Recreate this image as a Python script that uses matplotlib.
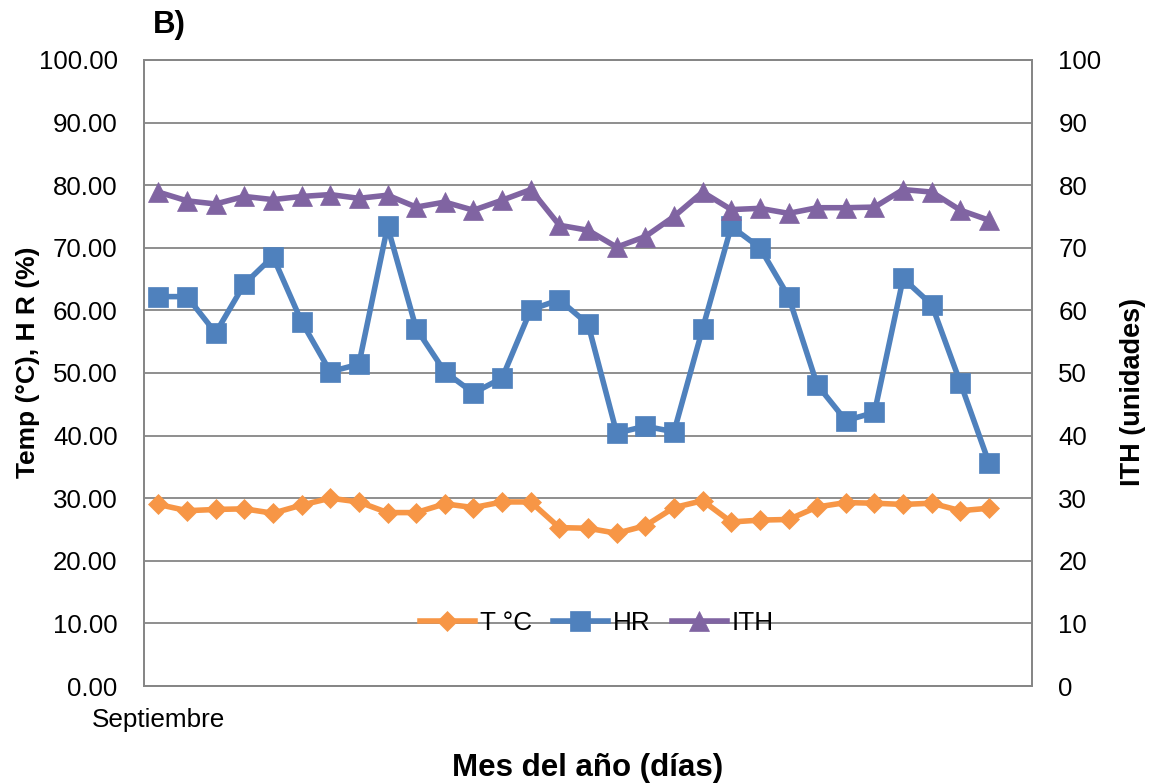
import matplotlib
matplotlib.use("Agg")
import matplotlib.pyplot as plt
from matplotlib.ticker import FormatStrFormatter, MultipleLocator

plt.rcParams['font.family'] = ['Liberation Sans', 'DejaVu Sans']

# Data
days = list(range(30))
x_labels = ["Septiembre"] + [""] * 29
temp_c = [29.0, 28.0, 28.2, 28.3, 27.6, 28.9, 30.0, 29.4, 27.7, 27.7,
          29.1, 28.5, 29.4, 29.4, 25.3, 25.2, 24.4, 25.6, 28.5, 29.6,
          26.2, 26.5, 26.6, 28.6, 29.3, 29.2, 29.0, 29.2, 28.0, 28.4]
hr = [62.2, 62.2, 56.4, 64.2, 68.6, 58.2, 50.2, 51.4, 73.4, 57.1,
      50.2, 46.8, 49.2, 60.1, 61.7, 57.8, 40.4, 41.5, 40.6, 57.1,
      73.4, 70.0, 62.2, 48.1, 42.4, 43.7, 65.1, 60.9, 48.4, 35.6]
ith = [78.9, 77.5, 77.0, 78.2, 77.7, 78.2, 78.5, 77.9, 78.4, 76.5,
       77.3, 76.0, 77.6, 79.3, 73.6, 72.8, 70.1, 71.8, 75.0, 78.9,
       76.1, 76.3, 75.5, 76.4, 76.4, 76.5, 79.3, 78.9, 76.0, 74.4]
series_names = ["T °C", "HR", "ITH"]

c_t = "#F79646"
c_hr = "#4F81BD"
c_ith = "#8064A2"
grid_c = "#868686"

fig = plt.figure(figsize=(11.57, 7.84), dpi=100)
ax = fig.add_axes([0.1245, 0.125, 0.7675, 0.7985])
ax2 = ax.twinx()

lw = 4.0
l1, = ax.plot(days, temp_c, color=c_t, lw=lw, marker='D', markersize=9.8,
              markeredgewidth=0.5, markeredgecolor=c_t, label=series_names[0])
l2, = ax.plot(days, hr, color=c_hr, lw=lw, marker='s', markersize=13.8,
              markeredgewidth=0.5, markeredgecolor=c_hr, label=series_names[1])
l3, = ax2.plot(days, ith, color=c_ith, lw=lw, marker='^', markersize=14.3,
               markeredgewidth=0.5, markeredgecolor=c_ith, label=series_names[2])

for a in (ax, ax2):
    a.set_ylim(0, 100)
    a.set_xlim(-0.5, 30.5)
    a.yaxis.set_major_locator(MultipleLocator(10))
    for s in a.spines.values():
        s.set_color(grid_c)
        s.set_linewidth(1.3)

ax.yaxis.set_major_formatter(FormatStrFormatter('%.2f'))
ax2.yaxis.set_major_formatter(FormatStrFormatter('%d'))
ax.grid(axis='y', color=grid_c, lw=1.3)
ax.set_axisbelow(True)

ax.set_xticks(days)
ax.set_xticklabels(x_labels)
ax.tick_params(axis='x', length=0, pad=16, labelsize=18.8)
ax.tick_params(axis='y', length=0, pad=19, labelsize=18.6)
ax2.tick_params(axis='y', length=0, pad=19, labelsize=18.6)

fig.text(0.024, 0.538, "Temp (°C), H R (%)", rotation=90, ha='center', va='center',
         fontsize=19, fontweight='bold')
fig.text(0.979, 0.5, "ITH (unidades)", rotation=90, ha='center', va='center',
         fontsize=19.5, fontweight='bold')
fig.text(0.508, 0.021, "Mes del año (días)", ha='center', va='center',
         fontsize=22.5, fontweight='bold')
fig.text(0.132, 0.958, "B)", ha='left', va='baseline', fontsize=22.5, fontweight='bold')

leg = ax2.legend([l1, l2, l3], series_names, loc='center', bbox_to_anchor=(0.51, 0.1),
                 ncol=3, frameon=False, fontsize=18.8, handlelength=2.1,
                 handletextpad=0.2, columnspacing=0.8, borderaxespad=0)

fig.savefig("out.png", dpi=100)
